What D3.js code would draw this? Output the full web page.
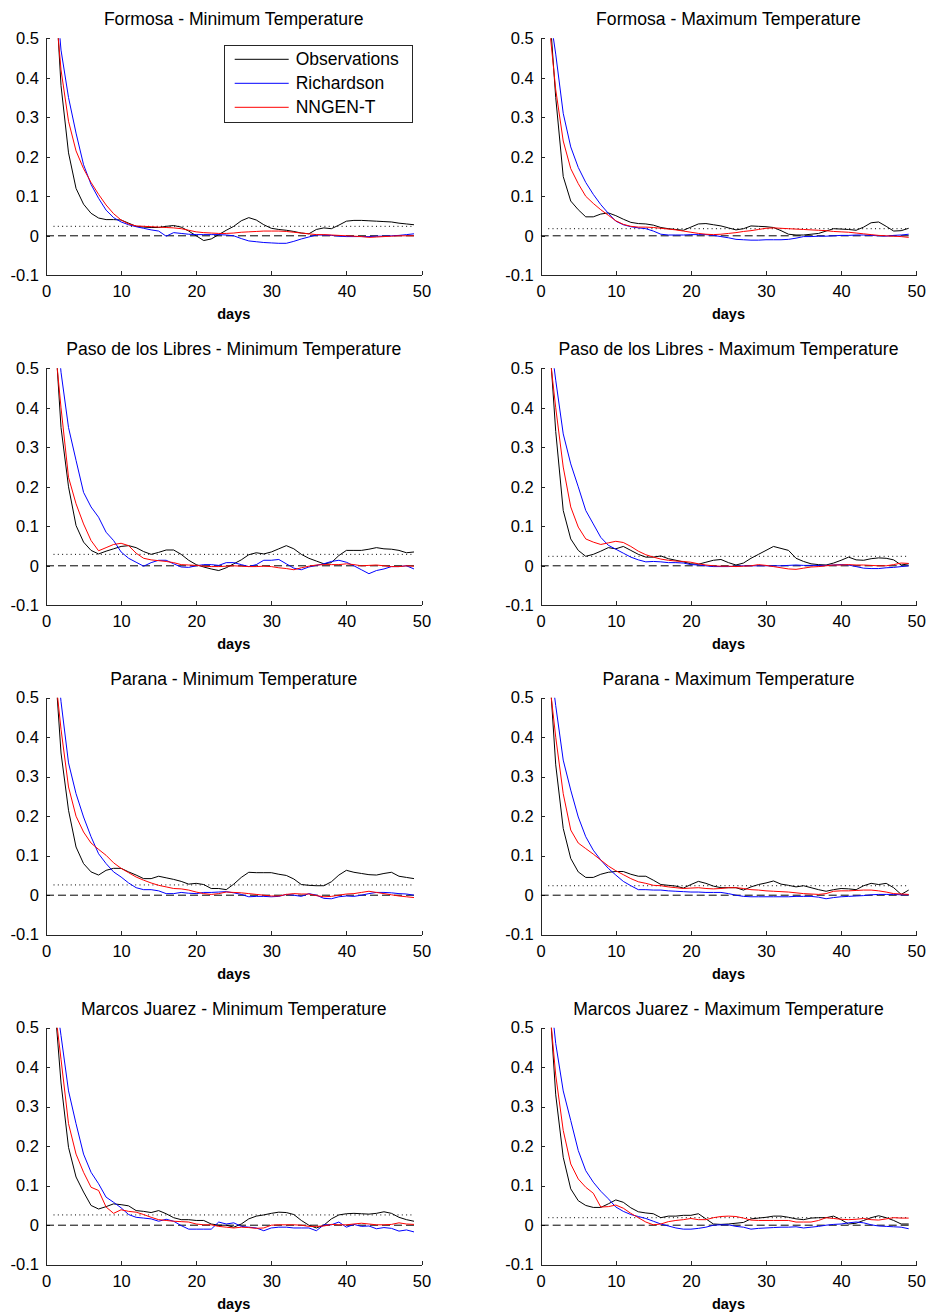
<!DOCTYPE html>
<html>
<head>
<meta charset="utf-8">
<script src="https://cdn.jsdelivr.net/npm/d3@7"></script>
<style>
body { margin: 0; background: #fff; }
svg { font-family: "Liberation Sans", Arial, Helvetica, sans-serif; }
</style>
</head>
<body>
<div id="chart"></div>
<script>
// lags (days) 1..49
const lags = [1,2,3,4,5,6,7,8,9,10,11,12,13,14,15,16,17,18,19,20,21,22,23,24,25,
    26,27,28,29,30,31,32,33,34,35,36,37,38,39,40,41,42,43,44,45,46,47,48,49];

const xTicks = [0, 10, 20, 30, 40, 50];
const yTicks = [-0.1, 0, 0.1, 0.2, 0.3, 0.4, 0.5];
const yTickLabels = ["-0.1", "0", "0.1", "0.2", "0.3", "0.4", "0.5"];

const seriesNames = ["Observations", "Richardson", "NNGEN-T"];
const seriesColors = ["#000000", "#0000ff", "#ff0000"];

const titles = [
    "Formosa - Minimum Temperature", "Formosa - Maximum Temperature",
    "Paso de los Libres - Minimum Temperature", "Paso de los Libres - Maximum Temperature",
    "Parana - Minimum Temperature", "Parana - Maximum Temperature",
    "Marcos Juarez - Minimum Temperature", "Marcos Juarez - Maximum Temperature"
];

// significance level (dotted line) per panel
const thresholds = [0.024, 0.018, 0.029, 0.024, 0.026, 0.024, 0.026, 0.019];

// Formosa - min
const formosaMinObs = [0.71,0.38,0.21,0.12,0.08,0.057,0.045,0.041,0.041,0.04,
    0.032,0.024,0.022,0.021,0.021,0.024,0.026,0.022,0.012,0.0,
    -0.012,-0.008,0.003,0.014,0.024,0.038,0.046,0.04,0.028,0.019,
    0.016,0.014,0.011,0.007,0.005,0.016,0.02,0.018,0.027,0.037,
    0.039,0.039,0.038,0.037,0.036,0.035,0.032,0.03,0.028];
const formosaMinRich = [0.69,0.47,0.35,0.26,0.18,0.13,0.095,0.065,0.046,0.035,
    0.028,0.023,0.019,0.015,0.012,-0.001,0.008,0.006,0.004,0.003,
    0.003,0.003,0.003,0.002,0.0,-0.007,-0.013,-0.015,-0.017,-0.018,
    -0.019,-0.019,-0.014,-0.008,-0.003,0.002,0.002,0.001,-0.001,-0.002,
    -0.002,-0.002,-0.002,-0.001,-0.001,0.0,0.001,0.003,0.005];
const formosaMinNn = [0.64,0.42,0.29,0.215,0.17,0.135,0.105,0.078,0.056,0.04,
    0.03,0.025,0.024,0.023,0.022,0.021,0.02,0.018,0.014,0.01,
    0.008,0.007,0.006,0.006,0.007,0.009,0.01,0.011,0.012,0.012,
    0.012,0.011,0.009,0.007,0.005,0.003,0.003,0.002,0.001,0.0,
    -0.001,-0.002,-0.004,-0.003,-0.002,-0.001,0.0,0.0,0.0];

// Formosa - max
const formosaMaxObs = [0.62,0.35,0.15,0.088,0.066,0.048,0.048,0.055,0.058,0.051,
    0.042,0.034,0.031,0.03,0.027,0.021,0.018,0.016,0.014,0.022,
    0.03,0.031,0.028,0.025,0.02,0.015,0.018,0.025,0.024,0.023,
    0.021,0.013,0.004,0.002,0.002,0.004,0.006,0.012,0.018,0.017,
    0.016,0.014,0.022,0.033,0.035,0.024,0.012,0.013,0.019];
const formosaMaxRich = [0.59,0.46,0.31,0.225,0.173,0.135,0.105,0.079,0.057,0.037,
    0.028,0.023,0.02,0.018,0.012,0.004,0.002,0.002,0.002,0.003,
    0.003,0.003,0.001,-0.002,-0.005,-0.009,-0.01,-0.011,-0.011,-0.01,
    -0.01,-0.01,-0.009,-0.006,-0.002,-0.002,-0.001,-0.001,0.0,0.001,
    0.001,0.002,0.002,0.001,0.0,-0.001,0.001,0.002,0.004];
const formosaMaxNn = [0.56,0.37,0.24,0.17,0.132,0.1,0.082,0.066,0.052,0.038,
    0.029,0.024,0.022,0.022,0.021,0.019,0.017,0.015,0.012,0.009,
    0.006,0.004,0.003,0.004,0.006,0.008,0.011,0.013,0.016,0.019,
    0.02,0.019,0.018,0.017,0.016,0.015,0.014,0.013,0.011,0.01,
    0.009,0.007,0.005,0.003,0.001,0.0,-0.001,-0.002,-0.004];

// Paso de los Libres - min
const pasoMinObs = [0.65,0.35,0.2,0.102,0.06,0.039,0.03,0.037,0.043,0.049,
    0.051,0.046,0.036,0.029,0.034,0.04,0.04,0.029,0.014,0.003,
    -0.003,-0.008,-0.012,-0.005,0.005,0.015,0.028,0.033,0.03,0.035,
    0.043,0.051,0.043,0.029,0.019,0.012,0.005,0.008,0.026,0.039,
    0.039,0.039,0.042,0.046,0.043,0.042,0.039,0.033,0.035];
const pasoMinRich = [0.7,0.49,0.35,0.267,0.186,0.149,0.123,0.085,0.064,0.035,
    0.019,0.009,-0.001,0.008,0.014,0.014,0.005,-0.003,-0.004,0.0,
    0.003,0.003,0.001,0.008,0.008,0.003,-0.002,0.003,0.014,0.014,
    0.016,0.005,-0.006,-0.01,-0.003,0.001,0.005,0.011,0.014,0.009,
    0.0,-0.01,-0.02,-0.012,-0.008,-0.002,-0.002,0.0,-0.008];
const pasoMinNn = [0.6,0.4,0.224,0.157,0.106,0.064,0.038,0.046,0.054,0.057,
    0.051,0.032,0.019,0.015,0.013,0.011,0.008,0.003,0.002,0.001,
    -0.001,-0.002,-0.002,-0.001,0.0,-0.001,-0.002,-0.002,-0.001,-0.002,
    -0.005,-0.007,-0.01,-0.005,-0.001,0.002,0.003,0.003,0.003,0.005,
    0.003,0.0,0.001,0.002,0.0,-0.002,-0.002,0.0,-0.001];

// Paso de los Libres - max
const pasoMaxObs = [0.62,0.34,0.14,0.068,0.039,0.024,0.029,0.037,0.046,0.043,
    0.049,0.039,0.029,0.022,0.022,0.025,0.018,0.014,0.01,0.005,
    0.004,0.009,0.014,0.016,0.008,0.002,0.007,0.019,0.029,0.039,
    0.049,0.044,0.039,0.019,0.011,0.005,0.003,0.002,0.007,0.014,
    0.022,0.015,0.014,0.018,0.02,0.019,0.015,0.002,0.005];
const pasoMaxRich = [0.62,0.47,0.334,0.258,0.2,0.14,0.106,0.072,0.052,0.042,
    0.032,0.022,0.015,0.01,0.011,0.01,0.008,0.008,0.007,0.003,
    0.002,0.0,-0.002,-0.002,-0.002,-0.001,0.0,0.0,0.0,0.0,
    0.0,0.0,0.001,0.002,0.001,0.001,0.001,0.001,0.002,0.003,
    0.002,-0.002,-0.006,-0.007,-0.007,-0.005,-0.004,-0.002,0.0];
const pasoMaxNn = [0.57,0.4,0.25,0.149,0.098,0.068,0.06,0.054,0.058,0.062,
    0.059,0.049,0.037,0.028,0.022,0.017,0.014,0.012,0.011,0.009,
    0.005,0.002,0.0,-0.001,-0.001,-0.002,-0.001,0.0,0.003,0.001,
    -0.002,-0.005,-0.008,-0.009,-0.006,-0.003,-0.002,0.0,0.002,0.002,
    0.003,0.002,0.002,0.001,0.0,0.0,0.003,0.007,0.006];

// Parana - min
const paranaMinObs = [0.64,0.36,0.215,0.122,0.08,0.059,0.051,0.063,0.068,0.068,
    0.059,0.051,0.042,0.042,0.048,0.044,0.04,0.035,0.028,0.03,
    0.027,0.017,0.017,0.014,0.028,0.045,0.058,0.057,0.057,0.057,
    0.053,0.05,0.041,0.027,0.025,0.024,0.024,0.034,0.051,0.063,
    0.058,0.055,0.052,0.051,0.055,0.058,0.048,0.045,0.042];
const paranaMinRich = [0.69,0.49,0.335,0.257,0.198,0.148,0.105,0.08,0.059,0.046,
    0.031,0.019,0.014,0.014,0.011,0.004,0.004,0.007,0.005,0.004,
    0.007,0.007,0.008,0.009,0.006,0.002,-0.004,-0.003,-0.003,-0.004,
    -0.003,0.002,0.0,-0.003,0.004,0.0,-0.008,-0.009,-0.004,-0.002,
    -0.003,0.0,0.004,0.007,0.007,0.006,0.004,0.003,0.0];
const paranaMinNn = [0.6,0.42,0.274,0.2,0.16,0.132,0.116,0.101,0.082,0.068,
    0.057,0.046,0.038,0.031,0.025,0.021,0.017,0.016,0.013,0.008,
    0.004,0.002,0.004,0.008,0.007,0.006,0.004,0.002,0.0,-0.002,
    -0.002,0.002,0.004,0.003,0.003,-0.001,-0.004,-0.003,0.0,0.003,
    0.004,0.007,0.01,0.007,0.004,0.001,-0.002,-0.004,-0.006];

// Parana - max
const paranaMaxObs = [0.62,0.33,0.169,0.093,0.059,0.045,0.045,0.053,0.058,0.06,
    0.06,0.053,0.048,0.048,0.038,0.027,0.025,0.023,0.018,0.027,
    0.035,0.03,0.023,0.019,0.019,0.019,0.013,0.021,0.027,0.031,
    0.036,0.028,0.025,0.021,0.024,0.019,0.014,0.01,0.014,0.017,
    0.016,0.014,0.024,0.03,0.027,0.03,0.019,0.002,0.013];
const paranaMaxRich = [0.63,0.48,0.342,0.266,0.198,0.148,0.114,0.089,0.068,0.051,
    0.035,0.024,0.014,0.014,0.013,0.013,0.011,0.01,0.009,0.008,
    0.008,0.007,0.007,0.007,0.004,0.0,-0.003,-0.004,-0.004,-0.004,
    -0.004,-0.004,-0.004,-0.003,-0.003,-0.003,-0.005,-0.009,-0.006,-0.004,
    -0.003,-0.002,-0.001,0.001,0.002,0.002,0.002,0.001,0.001];
const paranaMaxNn = [0.57,0.4,0.257,0.165,0.132,0.118,0.104,0.089,0.074,0.062,
    0.052,0.042,0.034,0.03,0.025,0.024,0.021,0.019,0.017,0.018,
    0.019,0.017,0.016,0.017,0.019,0.019,0.017,0.014,0.013,0.011,
    0.01,0.009,0.008,0.006,0.004,0.003,0.002,0.004,0.01,0.011,
    0.011,0.012,0.013,0.013,0.011,0.008,0.004,0.003,0.002];

// Marcos Juarez - min
const marcosMinObs = [0.6,0.36,0.197,0.122,0.084,0.05,0.041,0.047,0.054,0.052,
    0.049,0.037,0.035,0.032,0.037,0.029,0.019,0.014,0.014,0.012,
    0.012,0.003,0.0,0.0,-0.005,0.003,0.016,0.023,0.026,0.03,
    0.033,0.032,0.027,0.012,0.0,-0.007,0.0,0.016,0.026,0.029,
    0.03,0.029,0.028,0.03,0.034,0.03,0.02,0.014,0.01];
const marcosMinRich = [0.62,0.48,0.34,0.257,0.18,0.134,0.105,0.071,0.058,0.044,
    0.027,0.02,0.018,0.016,0.01,0.015,0.01,-0.001,-0.01,-0.01,
    -0.01,-0.01,0.008,0.003,0.006,-0.003,-0.005,-0.007,-0.014,-0.007,
    -0.005,-0.005,-0.007,-0.007,-0.007,-0.014,0.001,0.001,0.008,-0.005,
    0.002,-0.003,-0.002,-0.009,-0.006,-0.008,-0.015,-0.012,-0.017];
const marcosMinNn = [0.58,0.42,0.257,0.18,0.134,0.096,0.088,0.046,0.03,0.039,
    0.035,0.033,0.027,0.02,0.014,0.012,0.01,0.009,0.008,0.003,
    0.001,0.001,-0.003,-0.005,-0.007,-0.005,-0.006,-0.008,-0.007,0.0,
    0.001,0.001,0.001,0.0,-0.003,-0.003,-0.002,0.002,0.001,0.001,
    0.003,0.005,0.003,0.001,0.001,0.002,0.006,0.003,0.002];

// Marcos Juarez - max
const marcosMaxObs = [0.62,0.33,0.172,0.092,0.062,0.05,0.045,0.045,0.054,0.064,
    0.058,0.044,0.034,0.031,0.029,0.019,0.023,0.023,0.025,0.025,
    0.029,0.016,0.003,0.002,0.003,0.005,0.007,0.016,0.018,0.02,
    0.023,0.023,0.02,0.016,0.014,0.018,0.019,0.019,0.023,0.014,
    0.003,0.005,0.012,0.019,0.024,0.019,0.012,0.003,0.003];
const marcosMaxRich = [0.64,0.46,0.34,0.265,0.189,0.138,0.109,0.086,0.067,0.046,
    0.035,0.027,0.022,0.017,0.01,0.003,-0.002,-0.007,-0.01,-0.01,
    -0.008,-0.005,0.0,0.001,0.001,-0.003,-0.005,-0.01,-0.008,-0.007,
    -0.006,-0.005,-0.005,-0.004,-0.007,-0.005,-0.003,0.0,0.002,0.003,
    0.006,0.008,0.006,0.001,-0.002,-0.003,-0.004,-0.005,-0.009];
const marcosMaxNn = [0.59,0.38,0.24,0.155,0.117,0.096,0.081,0.046,0.047,0.051,
    0.043,0.03,0.019,0.008,0.001,0.003,0.009,0.012,0.014,0.017,
    0.014,0.014,0.019,0.022,0.023,0.022,0.018,0.013,0.012,0.012,
    0.012,0.012,0.012,0.008,0.008,0.008,0.012,0.019,0.017,0.015,
    0.014,0.015,0.017,0.014,0.013,0.016,0.019,0.018,0.018];

const panels = [
    [formosaMinObs, formosaMinRich, formosaMinNn],
    [formosaMaxObs, formosaMaxRich, formosaMaxNn],
    [pasoMinObs, pasoMinRich, pasoMinNn],
    [pasoMaxObs, pasoMaxRich, pasoMaxNn],
    [paranaMinObs, paranaMinRich, paranaMinNn],
    [paranaMaxObs, paranaMaxRich, paranaMaxNn],
    [marcosMinObs, marcosMinRich, marcosMinNn],
    [marcosMaxObs, marcosMaxRich, marcosMaxNn]
];

// layout
const W = 928, H = 1314;
const colLeft = [46, 540.7];
const rowTop = [38.3, 368.3, 697.7, 1027.7];
const plotW = 375.5, plotH = 237;
const axisColor = "#262626";

const svg = d3.select("#chart").append("svg")
    .attr("width", W)
    .attr("height", H);

const x = d3.scaleLinear().domain([0, 50]).range([0, plotW]);
const y = d3.scaleLinear().domain([-0.1, 0.5]).range([plotH, 0]);

const line = d3.line()
    .x(function(d, i) { return x(lags[i]); })
    .y(function(d) { return y(d); });

panels.forEach(function(series, p) {
    let col = p % 2;
    let row = Math.floor(p / 2);
    let g = svg.append("g")
        .attr("transform", "translate(" + colLeft[col] + "," + rowTop[row] + ")");

    g.append("clipPath")
        .attr("id", "clip" + p)
        .append("rect")
        .attr("width", plotW)
        .attr("height", plotH);

    // title
    g.append("text")
        .attr("x", plotW / 2)
        .attr("y", -13)
        .attr("text-anchor", "middle")
        .attr("font-size", "17.6px")
        .attr("fill", "#000")
        .text(titles[p]);

    // x axis (ticks pointing inward)
    let xAxis = g.append("g")
        .attr("transform", "translate(0," + plotH + ")")
        .call(d3.axisTop(x).tickValues(xTicks).tickSize(4).tickSizeOuter(0).tickFormat(d3.format("d")));
    xAxis.select(".domain").attr("stroke", axisColor);
    xAxis.selectAll(".tick line").attr("stroke", axisColor);
    xAxis.selectAll(".tick text")
        .attr("y", 22)
        .attr("dy", 0)
        .attr("font-size", "16.5px")
        .attr("fill", "#000");

    // y axis (plain hyphen for the minus sign, as in the original)
    let yAxis = g.append("g")
        .call(d3.axisRight(y).tickValues(yTicks).tickSize(4).tickSizeOuter(0)
            .tickFormat(function(d, i) { return yTickLabels[i]; }));
    yAxis.select(".domain").attr("stroke", axisColor);
    yAxis.selectAll(".tick line").attr("stroke", axisColor);
    yAxis.selectAll(".tick text")
        .attr("x", -7)
        .attr("text-anchor", "end")
        .attr("font-size", "16.5px")
        .attr("fill", "#000");
    xAxis.selectAll("path, line").attr("shape-rendering", "crispEdges");
    yAxis.selectAll("path, line").attr("shape-rendering", "crispEdges");

    // x label
    g.append("text")
        .attr("x", plotW / 2)
        .attr("y", plotH + 44)
        .attr("text-anchor", "middle")
        .attr("font-size", "14.5px")
        .attr("font-weight", "bold")
        .text("days");

    let plot = g.append("g").attr("clip-path", "url(#clip" + p + ")");

    // zero reference (dashed)
    plot.append("line")
        .attr("x1", x(0)).attr("x2", x(49))
        .attr("y1", y(0)).attr("y2", y(0))
        .attr("stroke", "#000")
        .attr("stroke-width", 1)
        .attr("stroke-dasharray", "8,4");

    // significance level (dotted)
    plot.append("line")
        .attr("x1", x(1)).attr("x2", x(49))
        .attr("y1", y(thresholds[p])).attr("y2", y(thresholds[p]))
        .attr("stroke", "#000")
        .attr("stroke-width", 1)
        .attr("stroke-dasharray", "1,3.3");

    series.forEach(function(vals, s) {
        plot.append("path")
            .datum(vals)
            .attr("fill", "none")
            .attr("stroke", seriesColors[s])
            .attr("stroke-width", 1)
            .attr("d", line);
    });

    // legend on first panel only
    if (p === 0) {
        let lg = g.append("g").attr("transform", "translate(178.3,6.7)");
        lg.append("rect")
            .attr("width", 188)
            .attr("height", 77.3)
            .attr("fill", "#fff")
            .attr("stroke", axisColor)
            .attr("shape-rendering", "crispEdges");
        seriesNames.forEach(function(name, s) {
            let yy = 14.3 + s * 24;
            lg.append("line")
                .attr("x1", 10.4).attr("x2", 64.4)
                .attr("y1", yy).attr("y2", yy)
                .attr("stroke", seriesColors[s])
                .attr("stroke-width", 1);
            lg.append("text")
                .attr("x", 71.4)
                .attr("y", yy)
                .attr("dy", "0.35em")
                .attr("font-size", "17.5px")
                .text(name);
        });
    }
});
</script>
</body>
</html>
